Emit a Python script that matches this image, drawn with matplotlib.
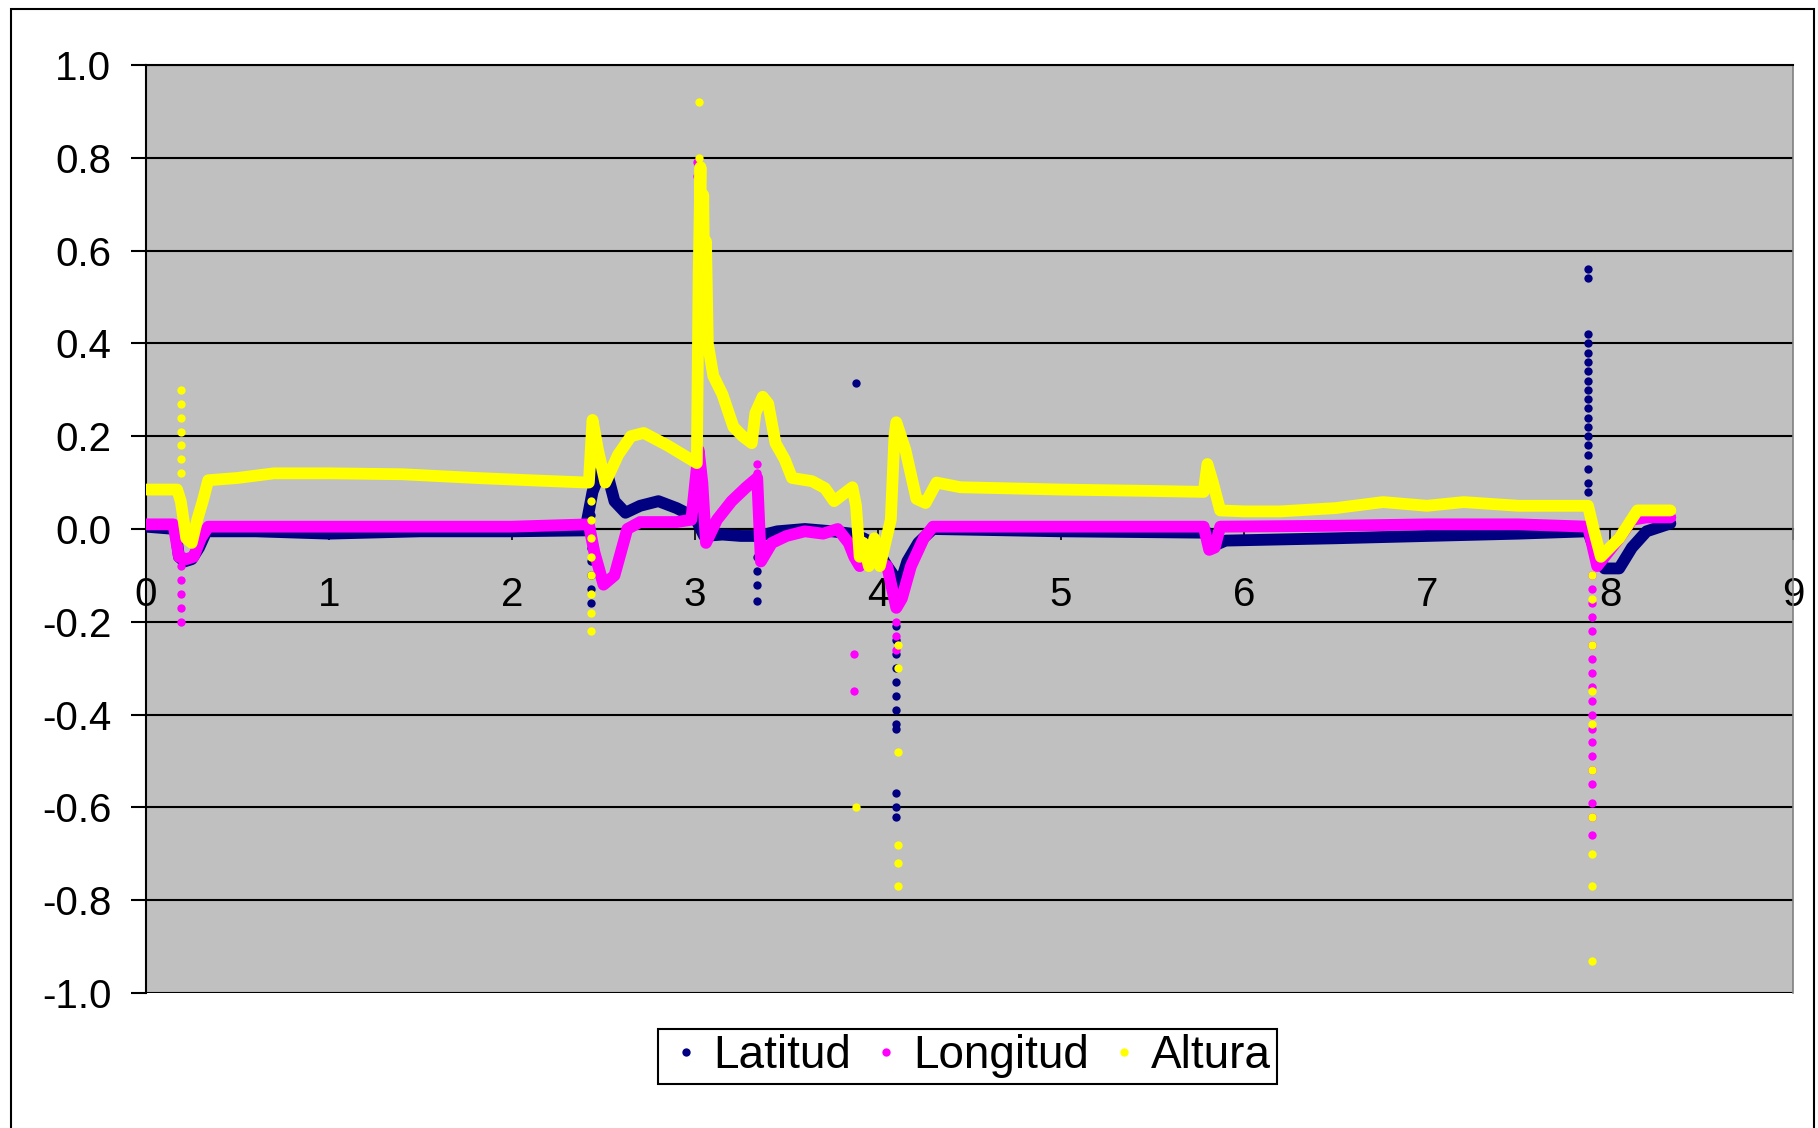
import matplotlib
matplotlib.use("Agg")
import matplotlib.pyplot as plt
from matplotlib.lines import Line2D
from matplotlib.patches import Rectangle
from matplotlib.ticker import FormatStrFormatter

plt.rcParams["font.family"] = ["Liberation Sans", "DejaVu Sans"]
plt.rcParams["axes.unicode_minus"] = False

# --- data: dense runs (drawn as thick traces) ---
lat_x = [0.00, 0.16, 0.18, 0.21, 0.25, 0.29, 0.33, 0.60, 1.00, 1.50, 2.00, 2.40,
         2.44, 2.49, 2.52, 2.56, 2.62, 2.70, 2.80, 2.90, 3.00, 3.05, 3.15, 3.25,
         3.35, 3.45, 3.60, 3.75, 3.85, 3.92, 3.97, 4.05, 4.12, 4.16, 4.22, 4.30,
         5.00, 5.80, 5.84, 5.90, 6.50, 7.00, 7.50, 7.88, 7.93, 7.97, 8.05, 8.12,
         8.20, 8.33]
lat_y = [0.005, 0.0, -0.06, -0.07, -0.065, -0.04, -0.005, -0.005, -0.01, -0.005,
         -0.005, -0.003, 0.08, 0.13, 0.12, 0.06, 0.035, 0.05, 0.06, 0.045, 0.025,
         -0.015, -0.012, -0.015, -0.015, -0.005, 0.0, -0.005, -0.01, -0.02, -0.03,
         -0.08, -0.12, -0.07, -0.03, 0.0, -0.005, -0.008, -0.035, -0.025, -0.02,
         -0.015, -0.01, -0.005, -0.06, -0.085, -0.085, -0.04, -0.005, 0.012]

lon_x = [0.00, 0.15, 0.18, 0.22, 0.26, 0.30, 0.34, 1.00, 2.00, 2.42, 2.45, 2.50,
         2.56, 2.63, 2.70, 2.90, 2.98, 3.02, 3.04, 3.06, 3.12, 3.20, 3.28, 3.34,
         3.36, 3.42, 3.50, 3.60, 3.70, 3.78, 3.84, 3.87, 3.90, 3.95, 4.00, 4.05,
         4.10, 4.13, 4.18, 4.25, 4.30, 5.00, 5.78, 5.81, 5.84, 5.87, 6.50, 7.00,
         7.50, 7.88, 7.93, 7.97, 8.05, 8.12, 8.20, 8.33]
lon_y = [0.01, 0.01, -0.06, -0.065, -0.06, -0.02, 0.005, 0.005, 0.005, 0.01,
         -0.05, -0.12, -0.10, 0.0, 0.015, 0.015, 0.02, 0.17, 0.10, -0.03, 0.02,
         0.06, 0.09, 0.11, -0.07, -0.03, -0.015, -0.005, -0.01, 0.0, -0.03, -0.06,
         -0.08, -0.05, -0.07, -0.08, -0.17, -0.15, -0.08, -0.02, 0.005, 0.005,
         0.005, -0.045, -0.04, 0.005, 0.007, 0.01, 0.01, 0.005, -0.08, -0.06,
         -0.02, 0.02, 0.025, 0.025]

alt_x = [0.00, 0.17, 0.19, 0.22, 0.25, 0.28, 0.31, 0.34, 0.50, 0.70, 1.00, 1.40,
         1.80, 2.10, 2.42, 2.44, 2.47, 2.51, 2.58, 2.65, 2.72, 2.85, 3.01, 3.02,
         3.03, 3.035, 3.045, 3.05, 3.06, 3.07, 3.10, 3.15, 3.21, 3.26, 3.31, 3.33,
         3.37, 3.40, 3.44, 3.49, 3.53, 3.64, 3.71, 3.76, 3.86, 3.88, 3.90, 3.92,
         3.95, 3.98, 4.01, 4.04, 4.07, 4.09, 4.10, 4.15, 4.21, 4.26, 4.32, 4.45,
         5.00, 5.50, 5.78, 5.80, 5.83, 5.87, 6.00, 6.20, 6.50, 6.76, 7.00, 7.20,
         7.50, 7.88, 7.91, 7.95, 8.05, 8.15, 8.33]
alt_y = [0.085, 0.085, 0.06, -0.02, -0.03, 0.02, 0.06, 0.105, 0.11, 0.12, 0.12,
         0.118, 0.11, 0.105, 0.10, 0.235, 0.17, 0.10, 0.16, 0.20, 0.207, 0.18,
         0.142, 0.55, 0.78, 0.50, 0.72, 0.55, 0.62, 0.40, 0.33, 0.29, 0.22, 0.20,
         0.185, 0.25, 0.285, 0.27, 0.185, 0.15, 0.11, 0.103, 0.088, 0.06, 0.09,
         0.05, -0.06, -0.03, -0.08, -0.02, -0.08, -0.03, 0.02, 0.20, 0.23, 0.17,
         0.065, 0.056, 0.10, 0.09, 0.085, 0.082, 0.08, 0.14, 0.10, 0.04, 0.038,
         0.038, 0.045, 0.058, 0.05, 0.058, 0.05, 0.05, 0.0, -0.06, -0.02, 0.04,
         0.04]

# --- isolated points of the spikes ---
lat_dot_x = [2.43] * 9 + [3.01] * 12 + [3.34] * 4 + [3.88] + [4.10] * 12 + [7.88] * 19
lat_dot_y = [-0.16, -0.13, -0.10, -0.07, -0.04, 0.0, 0.03, 0.06, 0.09,
             0.56, 0.53, 0.47, 0.40, 0.23, 0.21, 0.18, 0.15, 0.12, 0.09, 0.06, 0.03,
             -0.06, -0.09, -0.12, -0.155,
             0.315,
             -0.21, -0.24, -0.27, -0.30, -0.33, -0.36, -0.39, -0.42, -0.43,
             -0.57, -0.60, -0.62,
             0.56, 0.54, 0.42, 0.40, 0.38, 0.36, 0.34, 0.32, 0.30, 0.28, 0.26,
             0.24, 0.22, 0.20, 0.18, 0.16, 0.13, 0.10, 0.08]

lon_dot_x = [0.19] * 5 + [3.01] * 5 + [3.34] * 2 + [3.87] * 2 + [4.10] * 3 + [7.90] * 19
lon_dot_y = [-0.08, -0.11, -0.14, -0.17, -0.20,
             0.79, 0.76, 0.35, 0.31, 0.25,
             0.12, 0.14,
             -0.27, -0.35,
             -0.20, -0.23, -0.26,
             -0.10, -0.13, -0.16, -0.19, -0.22, -0.25, -0.28, -0.31, -0.34, -0.37,
             -0.40, -0.43, -0.46, -0.49, -0.52, -0.55, -0.59, -0.62, -0.66]

alt_dot_x = [0.19] * 7 + [2.43] * 8 + [3.02] * 2 + [3.88] + [4.11] * 6 + [7.90] * 10
alt_dot_y = [0.30, 0.27, 0.24, 0.21, 0.18, 0.15, 0.12,
             -0.22, -0.18, -0.14, -0.10, -0.06, -0.02, 0.02, 0.06,
             0.92, 0.80,
             -0.60,
             -0.25, -0.30, -0.48, -0.68, -0.72, -0.77,
             -0.10, -0.15, -0.25, -0.35, -0.42, -0.52, -0.62, -0.70, -0.77, -0.93]

names = ["Latitud", "Longitud", "Altura"]
colors = ["#000080", "#FF00FF", "#FFFF00"]

fig = plt.figure(figsize=(18.18, 11.28), dpi=100)
ax = fig.add_axes([146 / 1818, 1 - 993 / 1128, (1793 - 146) / 1818, (993 - 65) / 1128])
ax.set_facecolor("#C0C0C0")

series = [(lat_x, lat_y, lat_dot_x, lat_dot_y),
          (lon_x, lon_y, lon_dot_x, lon_dot_y),
          (alt_x, alt_y, alt_dot_x, alt_dot_y)]
for (lx, ly, dx, dy), c in zip(series, colors):
    ax.plot(dx, dy, "o", color=c, ms=6, mew=0, zorder=3)
    ax.plot(lx, ly, "-", color=c, lw=8.5, solid_joinstyle="round",
            solid_capstyle="round", zorder=3)

ax.set_xlim(0, 9)
ax.set_ylim(-1, 1)
ax.set_xticks(range(10))
ax.set_yticks([-1.0, -0.8, -0.6, -0.4, -0.2, 0.0, 0.2, 0.4, 0.6, 0.8, 1.0])
ax.yaxis.set_major_formatter(FormatStrFormatter("%.1f"))
ax.grid(axis="y", color="black", lw=1.5, zorder=1)
ax.set_axisbelow(True)

ax.spines["bottom"].set_position(("data", 0))
ax.spines["bottom"].set_linewidth(1.5)
ax.spines["bottom"].set_zorder(2)
ax.spines["left"].set_linewidth(1.5)
ax.spines["top"].set_linewidth(1.5)
ax.spines["right"].set_color("#808080")
ax.spines["right"].set_linewidth(1.2)

ax.tick_params(axis="x", direction="out", length=8, width=1.2, pad=26,
               labelsize=29, colors="black")
ax.tick_params(axis="y", direction="out", length=11, width=1.5, pad=14,
               labelsize=29)

handles = [Line2D([], [], ls="", marker="o", ms=6, mew=0, color=c) for c in colors]
leg = fig.legend(handles, names, loc="center", bbox_to_anchor=(0.532, 0.0634),
                 ncol=3, fontsize=33, frameon=True, fancybox=False,
                 edgecolor="black", framealpha=1, handlelength=1.0,
                 handletextpad=0.1, columnspacing=0.25, borderpad=0.12,
                 borderaxespad=0)
leg.get_frame().set_linewidth(1.5)

fig.patches.append(Rectangle((11 / 1818, -0.01), (1814 - 11) / 1818, 1.01 - 9 / 1128,
                             transform=fig.transFigure, fill=False,
                             edgecolor="black", lw=1.5))

fig.savefig("out.png", dpi=100)
